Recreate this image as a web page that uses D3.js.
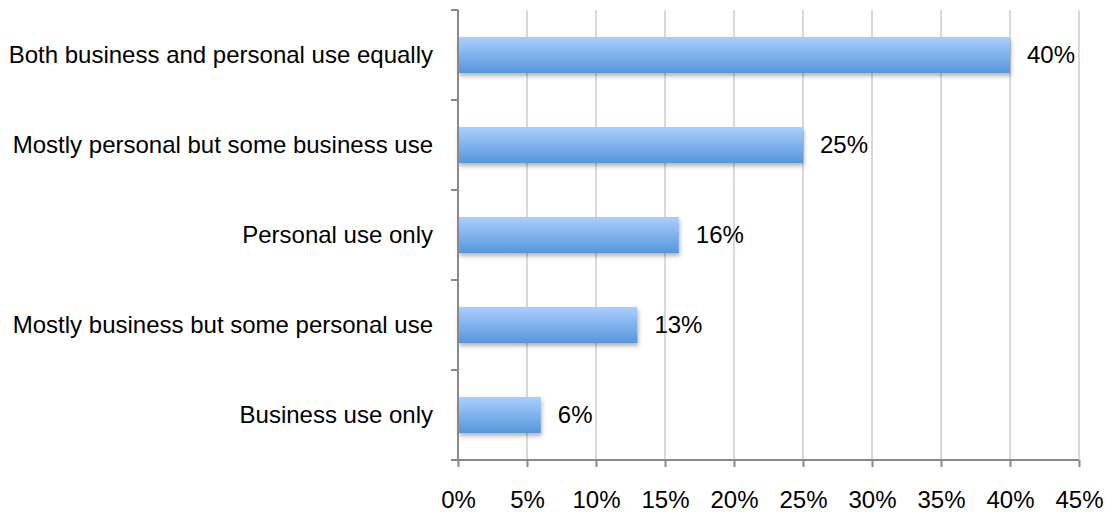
<!DOCTYPE html>
<html>
<head>
<meta charset="utf-8">
<script src="https://cdn.jsdelivr.net/npm/d3@7"></script>
<style>
  body { margin: 0; background: #fff; }
  text { font-family: 'Liberation Sans', Arial, sans-serif; fill: #000; }
</style>
</head>
<body>
<div id="chart"></div>
<script>
// categories from top to bottom
let categories = [
    'Both business and personal use equally',
    'Mostly personal but some business use',
    'Personal use only',
    'Mostly business but some personal use',
    'Business use only'
];
let values = [40, 25, 16, 13, 6];
let xTicks = [0, 5, 10, 15, 20, 25, 30, 35, 40, 45];

let width = 1107;
let height = 512;
let margin = ({ top: 10, right: 28, bottom: 52, left: 458 });

let svg = d3.select('#chart')
    .append('svg')
    .attr('width', width)
    .attr('height', height);

let defs = svg.append('defs');
let grad = defs.append('linearGradient')
    .attr('id', 'barGrad')
    .attr('x1', 0).attr('y1', 0)
    .attr('x2', 0).attr('y2', 1);
grad.append('stop').attr('offset', '0%').attr('stop-color', '#abcffd');
grad.append('stop').attr('offset', '100%').attr('stop-color', '#5596dc');

let shadow = defs.append('filter')
    .attr('id', 'shadow')
    .attr('x', '-10%').attr('y', '-30%')
    .attr('width', '130%').attr('height', '180%');
shadow.append('feDropShadow')
    .attr('dx', 1).attr('dy', 3)
    .attr('stdDeviation', 2)
    .attr('flood-color', '#000')
    .attr('flood-opacity', 0.3);

let x = d3.scaleLinear()
    .domain([0, 45])
    .range([margin.left, width - margin.right]);

let y = d3.scaleBand()
    .domain(categories)
    .range([margin.top, height - margin.bottom])
    .paddingInner(0.6)
    .paddingOuter(0.3);

// vertical gridlines
svg.append('g')
    .selectAll('line')
    .data(xTicks.slice(1))
    .enter()
    .append('line')
    .attr('x1', d => x(d))
    .attr('x2', d => x(d))
    .attr('y1', margin.top)
    .attr('y2', height - margin.bottom)
    .attr('stroke', '#d9d9d9')
    .attr('stroke-width', 2);

// bars
svg.append('g')
    .selectAll('rect')
    .data(values)
    .enter()
    .append('rect')
    .attr('x', x(0))
    .attr('y', (d, i) => y(categories[i]))
    .attr('width', d => x(d) - x(0))
    .attr('height', y.bandwidth())
    .attr('fill', 'url(#barGrad)')
    .attr('filter', 'url(#shadow)');

// value labels
svg.append('g')
    .selectAll('text')
    .data(values)
    .enter()
    .append('text')
    .attr('x', d => x(d) + 17)
    .attr('y', (d, i) => y(categories[i]) + y.bandwidth() / 2)
    .attr('dy', '0.35em')
    .style('font-size', '24px')
    .text(d => d + '%');

// x axis
let xAxis = g => g
    .attr('transform', `translate(0,${height - margin.bottom})`)
    .call(d3.axisBottom(x).tickValues(xTicks).tickFormat(d => d + '%').tickSize(7).tickPadding(24))
    .call(g => g.select('.domain').remove())
    .call(g => g.selectAll('.tick line').attr('stroke', '#898989').attr('stroke-width', 2))
    .call(g => g.selectAll('.tick text').style('font-size', '24px').attr('font-family', null));

svg.append('g').call(xAxis);

svg.append('line')
    .attr('x1', x(0) - 7)
    .attr('x2', x(45))
    .attr('y1', height - margin.bottom)
    .attr('y2', height - margin.bottom)
    .attr('stroke', '#898989')
    .attr('stroke-width', 2);

// y axis
let yTickPos = d3.range(categories.length + 1).map(i => margin.top + i * (height - margin.bottom - margin.top) / categories.length);

svg.append('line')
    .attr('x1', x(0))
    .attr('x2', x(0))
    .attr('y1', margin.top)
    .attr('y2', height - margin.bottom)
    .attr('stroke', '#898989')
    .attr('stroke-width', 2);

svg.append('g')
    .selectAll('line')
    .data(yTickPos)
    .enter()
    .append('line')
    .attr('x1', x(0) - 7)
    .attr('x2', x(0))
    .attr('y1', d => d)
    .attr('y2', d => d)
    .attr('stroke', '#898989')
    .attr('stroke-width', 2);

svg.append('g')
    .selectAll('text')
    .data(categories)
    .enter()
    .append('text')
    .attr('x', x(0) - 25)
    .attr('y', d => y(d) + y.bandwidth() / 2)
    .attr('dy', '0.35em')
    .attr('text-anchor', 'end')
    .style('font-size', '24px')
    .text(d => d);
</script>
</body>
</html>
